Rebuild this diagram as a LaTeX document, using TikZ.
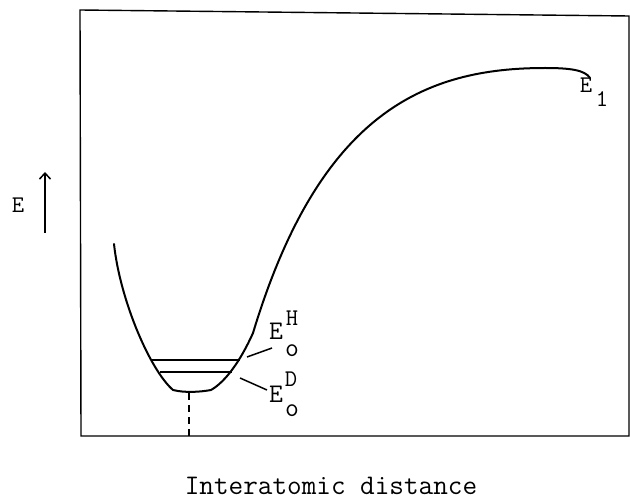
\documentclass[tikz,border=0pt]{standalone}
\usetikzlibrary{arrows.meta}
\begin{document}
\begin{tikzpicture}[x=1bp,y=-1bp,
  framestyle/.style={line width=1.4bp, line join=miter},
  curvestyle/.style={line width=2bp, line cap=round, line join=round},
  levelstyle/.style={line width=1.8bp},
  leaderstyle/.style={line width=1.5bp},
  dashstyle/.style={line width=1.4bp, dash pattern=on 7bp off 5bp},
  big/.style={inner sep=0pt, font=\ttfamily\fontsize{28.5}{30}\selectfont},
  lbl/.style={inner sep=0pt, font=\ttfamily\fontsize{27}{29}\selectfont},
  sup/.style={inner sep=0pt, font=\ttfamily\fontsize{24}{26}\selectfont}]
\useasboundingbox (0,0) rectangle (630,500);
% frame
\coordinate (tl) at (80,10);
\coordinate (tr) at (629,16);
\coordinate (br) at (629,436);
\coordinate (bl) at (81,436);
\draw[framestyle] (tl) -- (tr) -- (br) -- (bl) -- cycle;
% potential curve
\draw[curvestyle] (114,244) .. controls (120,300) and (150,370) .. (173,390)
  .. controls (185,393) and (200,392) .. (211,390)
  .. controls (225,382) and (240,362) .. (253,333)
  .. controls (319.7,112.2) and (425,68) .. (545,68)
  .. controls (570,68) and (585,70) .. (590,78);
% zero-point levels
\coordinate (hl) at (152,360);
\coordinate (hr) at (240,360);
\coordinate (dl) at (160,372);
\coordinate (dr) at (232,372);
\draw[levelstyle] (hl) -- (hr);
\draw[levelstyle] (dl) -- (dr);
% dashed drop
\coordinate (mtop) at (189,393);
\coordinate (mbot) at (189,436);
\draw[dashstyle] (mtop) -- (mbot);
% labels
\node[lbl] (EH) at (276,331) {E};
\node[sup] (EHs) at (292,318) {H};
\node[lbl] (EHo) at (292,351) {o};
\node[lbl] (ED) at (276,394) {E};
\node[sup] (EDs) at (291,379) {D};
\node[lbl] (EDo) at (292,411) {o};
\coordinate (lh1) at (247,357);
\coordinate (lh2) at (272,348);
\coordinate (ld1) at (240,378);
\coordinate (ld2) at (267,390);
\draw[leaderstyle] (lh1) -- (lh2);
\draw[leaderstyle] (ld1) -- (ld2);
\node[sup] (E1) at (586,85) {E};
\node[sup] (E1s) at (602,99) {1};
\node[sup] (Eaxis) at (18,205) {E};
\coordinate (atail) at (45,233);
\coordinate (ahead) at (45,172);
\draw[line width=1.5bp, -{Straight Barb[length=6bp,width=11bp]}] (atail) -- (ahead);
\node[big] (xlabel) at (331,486) {Interatomic distance};
\end{tikzpicture}
\end{document}
